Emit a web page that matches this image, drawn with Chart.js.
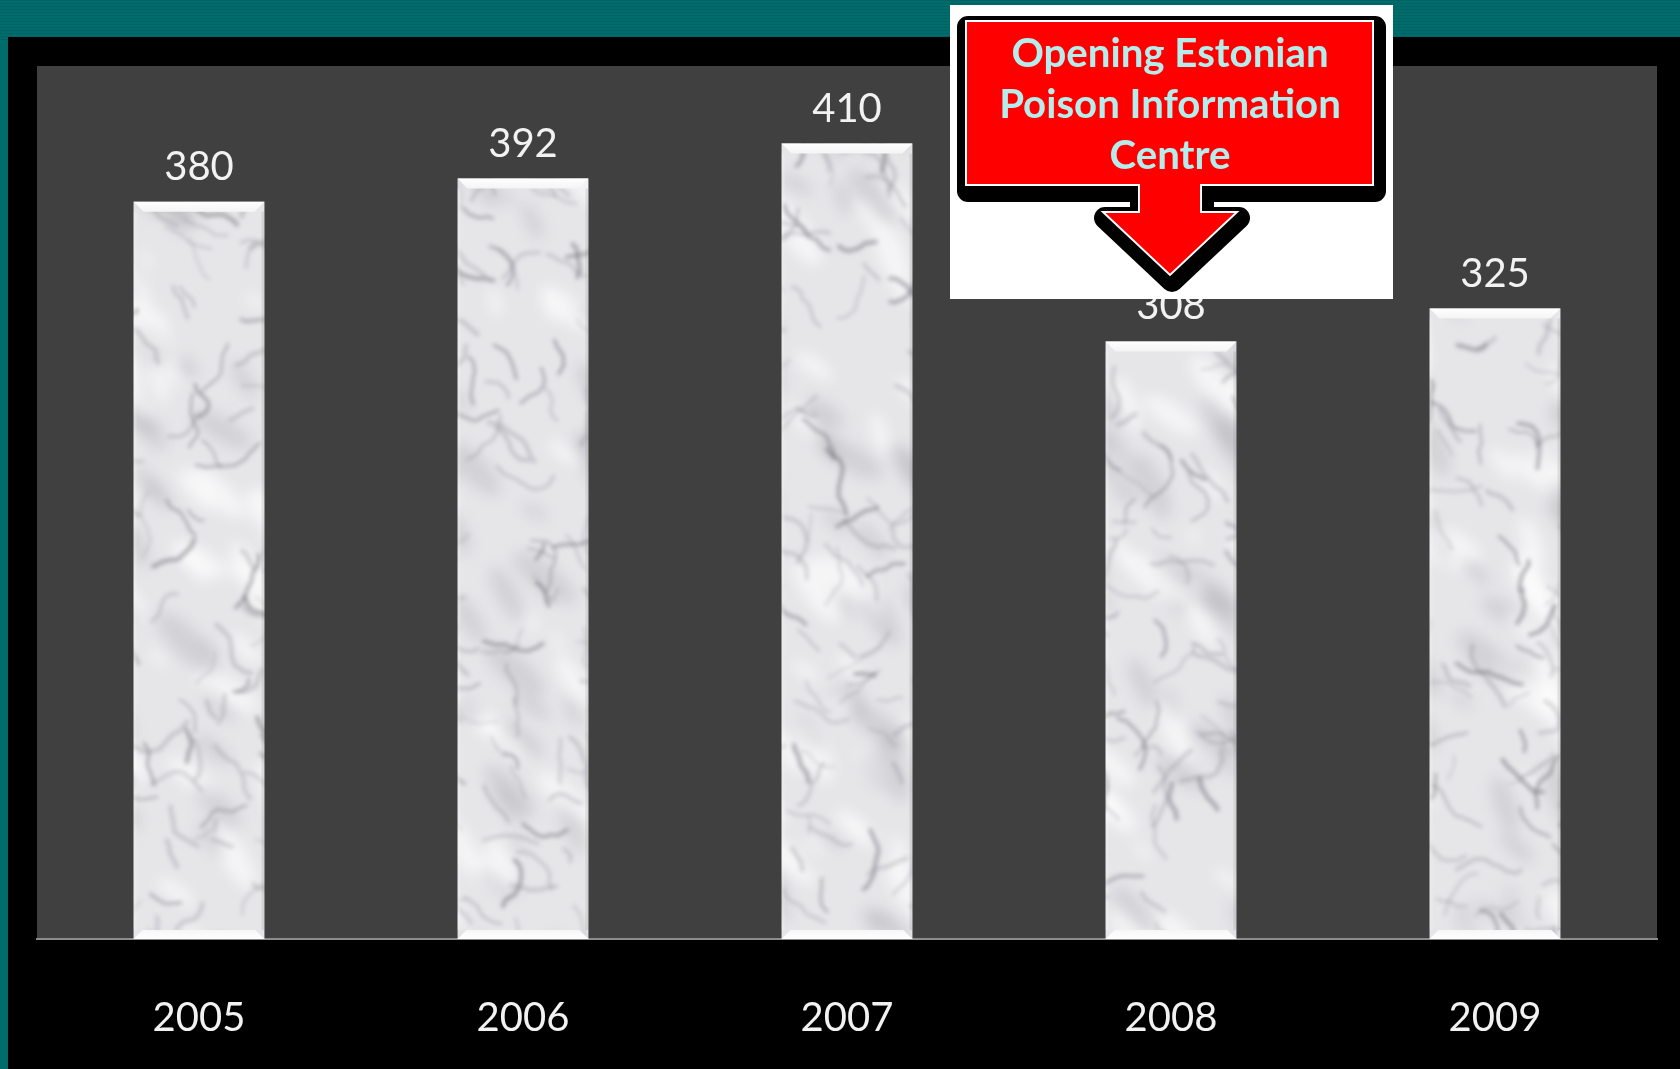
<!DOCTYPE html>
<html>
<head>
<meta charset="utf-8">
<script src="https://cdn.jsdelivr.net/npm/chart.js@4.4.1/dist/chart.umd.min.js"></script>
<style>
  html, body { margin: 0; padding: 0; background: #000; overflow: hidden; }
  canvas { display: block; }
</style>
</head>
<body>
<canvas id="c" width="1680" height="1069"></canvas>
<script>
// ---- data ----
const categories = ['2005', '2006', '2007', '2008', '2009'];
const values = [380, 392, 410, 308, 325];
const yMin = 0;
const yMax = 450;
const calloutLines = ['Opening Estonian', 'Poison Information', 'Centre'];
const calloutCategoryIndex = 3;

// ---- marble texture (decoration only, deterministic hash) ----
function hash(a, b) {
  const s = Math.sin(a * 12.9898 + b * 78.233) * 43758.5453;
  return s - Math.floor(s);
}
function layer(w, h) {
  const c = document.createElement('canvas');
  c.width = w; c.height = h;
  return c;
}
function makeMarble(w, h) {
  const out = layer(w, h);
  const g = out.getContext('2d');
  g.fillStyle = '#e6e6e9';
  g.fillRect(0, 0, w, h);

  // clouds layer (drawn plain, blurred once)
  const cl = layer(w, h);
  const cg = cl.getContext('2d');
  for (let k = 0; k < 700; k++) {
    const x = hash(k, 1) * w, y = hash(k, 2) * h;
    const r = 6 + hash(k, 3) * 18;
    const light = hash(k, 4) > 0.45;
    cg.fillStyle = light ? 'rgba(255,255,255,0.6)' : 'rgba(150,150,158,0.25)';
    cg.beginPath(); cg.ellipse(x, y, r * 1.7, r * 0.6, 0.5 + hash(k, 5) * 0.8, 0, Math.PI * 2); cg.fill();
  }
  g.filter = 'blur(7px)';
  g.drawImage(cl, 0, 0);

  // veins layer
  const vl = layer(w, h);
  const vg = vl.getContext('2d');
  vg.lineCap = 'round';
  vg.lineJoin = 'round';
  for (let k = 0; k < 1100; k++) {
    let x = hash(k, 11) * w, y = hash(k, 12) * h;
    let ang = 0.3 + hash(k, 13) * 1.2 + (hash(k, 14) > 0.7 ? -1.5 : 0);
    const steps = 3 + Math.floor(hash(k, 15) * 6);
    vg.strokeStyle = hash(k, 16) > 0.65 ? 'rgba(100,100,108,0.45)' : 'rgba(135,135,142,0.32)';
    vg.lineWidth = 1.5 + hash(k, 17) * 3;
    vg.beginPath();
    vg.moveTo(x, y);
    for (let s = 0; s < steps; s++) {
      ang += (hash(k, 20 + s) - 0.5) * 1.3;
      const len = 4 + hash(k, 40 + s) * 8;
      x += Math.cos(ang) * len; y += Math.sin(ang) * len;
      vg.lineTo(x, y);
    }
    vg.stroke();
  }
  g.filter = 'blur(2px)';
  g.drawImage(vl, 0, 0);
  g.filter = 'none';
  return out;
}

const backgroundPlugin = {
  id: 'bg',
  beforeDraw(chart) {
    const { ctx, chartArea: a, width, height } = chart;
    ctx.save();
    ctx.fillStyle = '#006b6b';
    ctx.fillRect(0, 0, width, height);
    ctx.fillStyle = '#006363';
    for (let y = 0; y < 40; y += 3) ctx.fillRect(0, y, width, 1);
    ctx.fillStyle = '#000000';
    ctx.fillRect(8, 37, width - 8, height - 37);
    ctx.fillStyle = '#404040';
    ctx.fillRect(a.left, a.top, a.right - a.left, a.bottom - a.top);
    ctx.restore();
  }
};

const bevelLabelPlugin = {
  id: 'bevel',
  afterDatasetsDraw(chart) {
    const { ctx } = chart;
    const meta = chart.getDatasetMeta(0);
    ctx.save();
    meta.data.forEach((bar, i) => {
      const x0 = bar.x - bar.width / 2, x1 = bar.x + bar.width / 2;
      const top = bar.y, bottom = bar.base;
      const b = 10;
      let gr = ctx.createLinearGradient(0, top, 0, top + b);
      gr.addColorStop(0, '#ffffff'); gr.addColorStop(1, '#f4f4f4');
      ctx.fillStyle = gr;
      ctx.beginPath();
      ctx.moveTo(x0, top); ctx.lineTo(x1, top); ctx.lineTo(x1 - b, top + b); ctx.lineTo(x0 + b, top + b); ctx.closePath();
      ctx.fill();
      gr = ctx.createLinearGradient(0, bottom - 9, 0, bottom);
      gr.addColorStop(0, '#f6f6f6'); gr.addColorStop(1, '#ffffff');
      ctx.fillStyle = gr;
      ctx.beginPath();
      ctx.moveTo(x0, bottom); ctx.lineTo(x1, bottom); ctx.lineTo(x1 - 9, bottom - 9); ctx.lineTo(x0 + 9, bottom - 9); ctx.closePath();
      ctx.fill();
      ctx.fillStyle = 'rgba(255,255,255,0.18)';
      ctx.fillRect(x0, top + b, 3, bottom - top - b - 9);
      ctx.fillStyle = 'rgba(120,120,120,0.18)';
      ctx.fillRect(x1 - 3, top + b, 3, bottom - top - b - 9);
      ctx.fillStyle = '#f2f2f2';
      ctx.font = '40px Lato';
      ctx.textAlign = 'center';
      ctx.textBaseline = 'alphabetic';
      ctx.fillText(String(values[i]), bar.x, top - 22);
    });
    ctx.restore();
  }
};

const calloutPlugin = {
  id: 'callout',
  afterDraw(chart) {
    const { ctx } = chart;
    const cx = chart.scales.x.getPixelForValue(calloutCategoryIndex) - 1;
    ctx.save();
    ctx.fillStyle = '#ffffff';
    ctx.fillRect(cx - 220, 5, 443, 294);
    const L = cx - 204, R = cx + 203, T = 21, B = 185;
    const path = (dx, dy) => {
      ctx.beginPath();
      ctx.moveTo(L + dx, T + dy); ctx.lineTo(R + dx, T + dy); ctx.lineTo(R + dx, B + dy);
      ctx.lineTo(cx + 31 + dx, B + dy); ctx.lineTo(cx + 31 + dx, 212 + dy); ctx.lineTo(cx + 67 + dx, 212 + dy);
      ctx.lineTo(cx + dx, 275 + dy);
      ctx.lineTo(cx - 67 + dx, 212 + dy); ctx.lineTo(cx - 31 + dx, 212 + dy); ctx.lineTo(cx - 31 + dx, B + dy);
      ctx.lineTo(L + dx, B + dy); ctx.closePath();
    };
    path(2, 6);
    ctx.fillStyle = '#000';
    ctx.strokeStyle = '#000';
    ctx.lineWidth = 22;
    ctx.lineJoin = 'round';
    ctx.fill();
    ctx.stroke();
    path(0, 0);
    ctx.fillStyle = '#ff0000';
    ctx.fill();
    ctx.lineWidth = 2;
    ctx.lineJoin = 'miter';
    ctx.strokeStyle = '#ffffff';
    ctx.stroke();
    let size = 40;
    ctx.font = 'bold ' + size + 'px Lato';
    const w = ctx.measureText(calloutLines[1]).width;
    size = size * 342 / w;
    ctx.font = 'bold ' + size.toFixed(1) + 'px Lato';
    ctx.fillStyle = '#b5eded';
    ctx.textAlign = 'center';
    ctx.textBaseline = 'alphabetic';
    const baselines = [67, 118, 169];
    calloutLines.forEach((t, i) => ctx.fillText(t, cx, baselines[i]));
    ctx.restore();
  }
};

function build() {
  const canvas = document.getElementById('c');
  const ctx = canvas.getContext('2d');
  const marble = ctx.createPattern(makeMarble(canvas.width, canvas.height), 'repeat');
  new Chart(ctx, {
    type: 'bar',
    data: {
      labels: categories,
      datasets: [{
        data: values,
        backgroundColor: marble,
        borderWidth: 0,
        barPercentage: 0.404,
        categoryPercentage: 1.0
      }]
    },
    options: {
      responsive: false,
      devicePixelRatio: 1,
      animation: false,
      events: [],
      layout: { padding: { left: 37, right: 23, top: 66, bottom: 0 } },
      plugins: { legend: { display: false }, tooltip: { enabled: false }, title: { display: false } },
      scales: {
        x: {
          afterFit(s) { s.height = 130; },
          grid: { display: true, drawOnChartArea: false, drawTicks: false, color: 'rgba(0,0,0,0)' },
          border: { display: true, color: '#8c8c8c', width: 2 },
          ticks: { color: '#f2f2f2', font: { family: 'Lato', size: 40 }, padding: 55 }
        },
        y: { display: false, min: yMin, max: yMax }
      }
    },
    plugins: [backgroundPlugin, bevelLabelPlugin, calloutPlugin]
  });
}

if (document.fonts && document.fonts.load) {
  Promise.all([document.fonts.load('40px Lato'), document.fonts.load('bold 40px Lato')]).then(build, build);
} else {
  build();
}
</script>
</body>
</html>
